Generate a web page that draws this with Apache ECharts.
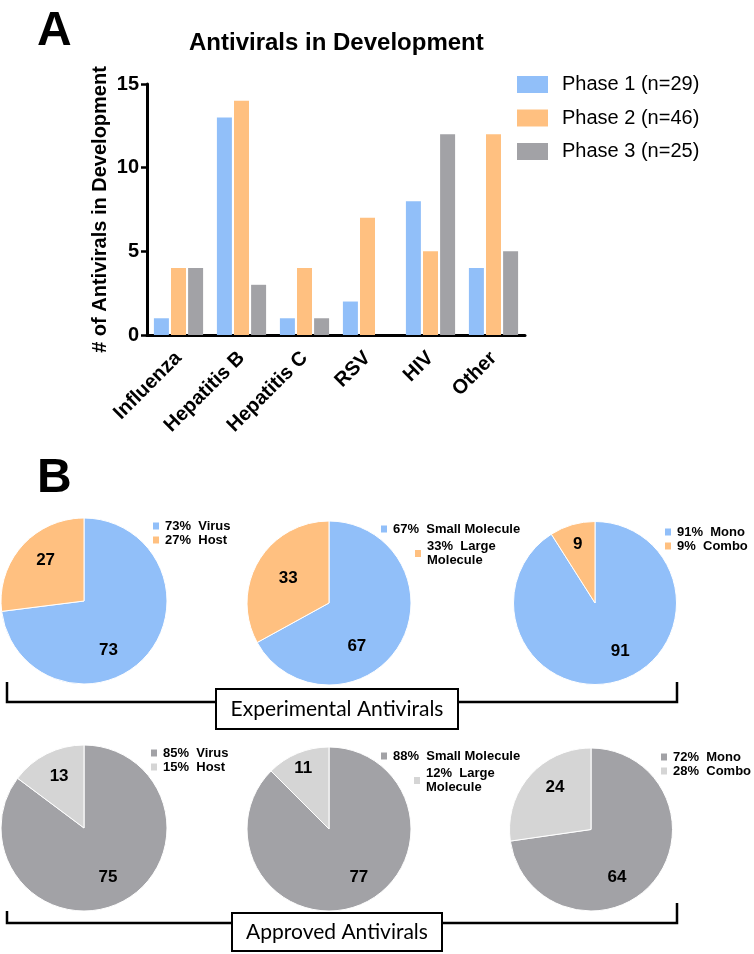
<!DOCTYPE html>
<html><head><meta charset="utf-8">
<script src="https://cdn.jsdelivr.net/npm/echarts@6/dist/echarts.min.js"></script>
<style>html,body{margin:0;padding:0;background:#fff}#c{width:754px;height:954px}</style>
</head><body><div id="c"></div>
<script>
// ---------- Data ----------
const categories = ['Influenza', 'Hepatitis B', 'Hepatitis C', 'RSV', 'HIV', 'Other'];
const phase1 = [1, 13, 1, 2, 8, 4];
const phase2 = [4, 14, 4, 7, 5, 12];
const phase3 = [4, 3, 1, 0, 12, 5];
const yTickMin = 0, yTickMax = 15, yTickStep = 5;

const targetNames = ['Virus', 'Host'];
const sizeNames = ['Small Molecule', 'Large Molecule'];
const comboNames = ['Mono', 'Combo'];

const expTarget = [73, 27];  const expTargetPct = [73, 27];
const expSize = [67, 33];    const expSizePct = [67, 33];
const expCombo = [91, 9];    const expComboPct = [91, 9];
const appTarget = [75, 13];  const appTargetPct = [85, 15];
const appSize = [77, 11];    const appSizePct = [88, 12];
const appCombo = [64, 24];   const appComboPct = [72, 28];

// ---------- Styles ----------
const FONT = '"Liberation Sans", Arial, Helvetica, sans-serif';
const C_BLUE = '#91BFF9', C_ORANGE = '#FFC080', C_GRAY = '#A2A2A6', C_LGRAY = '#D5D5D5';
const expColors = [C_BLUE, C_ORANGE];
const appColors = [C_GRAY, C_LGRAY];

const sum = a => a.reduce((s, v) => s + v, 0);
const phaseNames = [phase1, phase2, phase3].map((a, i) => `Phase ${i + 1} (n=${sum(a)})`);

// pie layout: [center, radius, label nudges(big,small), legend positions]
const pies = [
  { vals: expTarget, pct: expTargetPct, names: targetNames, colors: expColors, center: [84, 601], r: 83, nudge: [[-9, 20], [-5, -11]], leg: [[151, 519], null] },
  { vals: expSize,   pct: expSizePct,   names: sizeNames,   colors: expColors, center: [329, 603], r: 82, nudge: [[-10, 21], [-3, -2]], leg: [[379, 522], [413, 539.5]] },
  { vals: expCombo,  pct: expComboPct,  names: comboNames,  colors: expColors, center: [595, 603], r: 81.5, nudge: [[13, 6], [-5, -17]], leg: [[663, 525], null] },
  { vals: appTarget, pct: appTargetPct, names: targetNames, colors: appColors, center: [84, 828], r: 83, nudge: [[4, 10], [-5, -12]], leg: [[149, 746], null] },
  { vals: appSize,   pct: appSizePct,   names: sizeNames,   colors: appColors, center: [329, 829], r: 82, nudge: [[13, 8], [-9, -20]], leg: [[379, 749], [412, 766.5]] },
  { vals: appCombo,  pct: appComboPct,  names: comboNames,  colors: appColors, center: [591, 829.5], r: 81.5, nudge: [[-7, 19], [-3, -14]], leg: [[659, 750], null] }
];

const pieLegTextStyle = { fontFamily: FONT, fontSize: 13, fontWeight: 'bold', color: '#000', lineHeight: 14 };

const series = [];
const legends = [{
  data: phaseNames, orient: 'vertical', left: 517, top: 74.5, padding: 0,
  icon: 'rect', itemWidth: 31, itemHeight: 17, itemGap: 13.5, selectedMode: false,
  textStyle: { fontFamily: FONT, fontSize: 20, color: '#000', lineHeight: 20, padding: [0, 0, 0, 9] }
}];

[phase1, phase2, phase3].forEach((arr, i) => {
  series.push({
    type: 'bar', name: phaseNames[i], data: arr,
    barWidth: 15, barGap: '14%',
    itemStyle: { color: [C_BLUE, C_ORANGE, C_GRAY][i] }
  });
});

pies.forEach((p, pi) => {
  const itemNames = p.names.map((n, k) => `${p.pct[k]}%  ${n}`);
  series.push({
    type: 'pie', center: p.center, radius: [0, p.r],
    startAngle: 90, clockwise: true, silent: true,
    data: p.vals.map((v, k) => ({ value: v, name: itemNames[k], itemStyle: { color: p.colors[k] } })),
    itemStyle: { borderColor: '#fff', borderWidth: 1 },
    label: { show: true, position: 'inside', formatter: '{c}', fontFamily: FONT, fontSize: 17, fontWeight: 'bold', color: '#000' },
    labelLine: { show: false },
    labelLayout: (params) => ({ dx: p.nudge[params.dataIndex][0], dy: p.nudge[params.dataIndex][1] })
  });
  const fmt = n => n.replace('Large Molecule', 'Large\nMolecule');
  const common = { orient: 'vertical', padding: 0, icon: 'rect', itemWidth: 8, itemHeight: 9, itemGap: 0,
    selectedMode: false, textStyle: pieLegTextStyle, formatter: fmt };
  if (p.leg[1]) {
    legends.push(Object.assign({}, common, { data: [itemNames[0]], left: p.leg[0][0], top: p.leg[0][1] }));
    legends.push(Object.assign({}, common, { data: [itemNames[1]], left: p.leg[1][0], top: p.leg[1][1] }));
  } else {
    legends.push(Object.assign({}, common, { data: itemNames, left: p.leg[0][0], top: p.leg[0][1] }));
  }
});

const boxText = { fontFamily: 'Lato, "Open Sans", sans-serif', fontSize: 21, fill: '#000' };

const option = {
  animation: false,
  backgroundColor: '#fff',
  title: [
    { text: 'A', left: 37, top: 8, padding: 0, textStyle: { fontFamily: FONT, fontSize: 48, fontWeight: 'bold', color: '#000' } },
    { text: 'B', left: 37, top: 455, padding: 0, textStyle: { fontFamily: FONT, fontSize: 48, fontWeight: 'bold', color: '#000' } },
    { text: 'Antivirals in Development', left: 189, top: 31, padding: 0, textStyle: { fontFamily: FONT, fontSize: 24, fontWeight: 'bold', color: '#000' } }
  ],
  legend: legends,
  grid: { left: 147, right: 229, top: 84, bottom: 619, containLabel: false },
  xAxis: {
    type: 'category', data: categories,
    axisLine: { lineStyle: { color: '#000', width: 3 } },
    axisTick: { alignWithLabel: true, length: 7, lineStyle: { color: '#000', width: 3 } },
    axisLabel: { interval: 0, rotate: 45, margin: 20, fontFamily: FONT, fontSize: 20, fontWeight: 'bold', color: '#000' }
  },
  yAxis: {
    type: 'value', min: yTickMin, max: yTickMax, interval: yTickStep,
    name: '# of Antivirals in Development', nameLocation: 'middle', nameGap: 37, nameMoveOverlap: false,
    nameTextStyle: { fontFamily: FONT, fontSize: 20, fontWeight: 'bold', color: '#000' },
    splitLine: { show: false },
    axisLine: { show: true, lineStyle: { color: '#000', width: 3 } },
    axisTick: { show: true, length: 6, lineStyle: { color: '#000', width: 2.5 } },
    axisLabel: { margin: 8, fontFamily: FONT, fontSize: 20, fontWeight: 'bold', color: '#000' }
  },
  series: series,
  graphic: [
    { type: 'polyline', shape: { points: [[7, 682], [7, 702], [677, 702], [677, 682]] }, style: { stroke: '#000', lineWidth: 2.5, fill: null } },
    { type: 'rect', shape: { x: 216, y: 689, width: 242, height: 40 }, style: { fill: '#fff', stroke: '#000', lineWidth: 2 } },
    { type: 'text', x: 337, y: 709, style: Object.assign({ text: 'Experimental Antivirals', align: 'center', verticalAlign: 'middle' }, boxText) },
    { type: 'polyline', shape: { points: [[7, 911], [7, 923], [677, 923], [677, 903]] }, style: { stroke: '#000', lineWidth: 2.5, fill: null } },
    { type: 'rect', shape: { x: 232, y: 913, width: 210, height: 38 }, style: { fill: '#fff', stroke: '#000', lineWidth: 2 } },
    { type: 'text', x: 337, y: 932, style: Object.assign({ text: 'Approved Antivirals', align: 'center', verticalAlign: 'middle' }, boxText) }
  ]
};

const chart = echarts.init(document.getElementById('c'), null, { renderer: 'canvas' });
chart.setOption(option);
</script>
</body></html>
